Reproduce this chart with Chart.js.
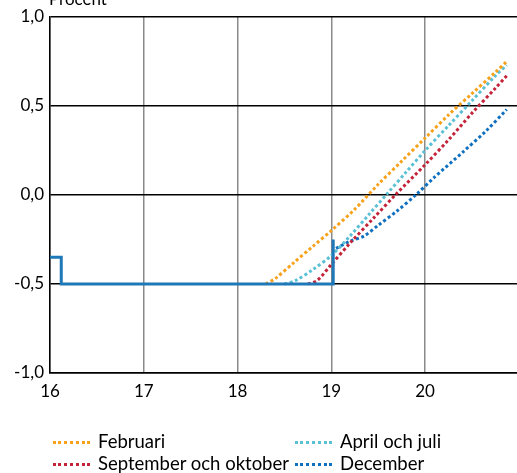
<!DOCTYPE html>
<html>
<head>
<meta charset="utf-8">
<script src="https://cdn.jsdelivr.net/npm/chart.js@4"></script>
<style>
  html, body { margin: 0; padding: 0; background: #fff; }
  #wrap { position: relative; width: 517px; height: 473px; overflow: hidden; font-family: Lato, "Open Sans", sans-serif; }
  #unit { position: absolute; left: 49px; top: -10px; font-size: 17px; line-height: 17px; color: #000; }
  .leg { position: absolute; font-size: 18.5px; line-height: 20px; color: #000; white-space: nowrap; }
  .leg span { display: inline-block; width: 37px; height: 0; border-top: 3px dotted; vertical-align: middle; margin-right: 8px; position: relative; top: -1px; }
</style>
</head>
<body>
<div id="wrap">
  <canvas id="chart" width="517" height="473"></canvas>
  <div id="unit">Procent</div>
  <div id="legend"></div>
</div>
<script>
// policy rate outcome (solid)
const outcomeX = [16, 16.12, 16.12, 19.02, 19.02];
const outcomeY = [-0.35, -0.35, -0.5, -0.5, -0.25];

// forecasts (dotted)
const febX = [18.3, 18.4, 18.6, 18.8, 19.0, 19.25, 19.5, 19.75, 20.0, 20.25, 20.5, 20.75, 20.87];
const febY = [-0.5, -0.47, -0.38, -0.29, -0.2, -0.08, 0.06, 0.19, 0.32, 0.45, 0.57, 0.69, 0.75];

const aprX = [18.5, 18.62, 18.8, 19.0, 19.2, 19.4, 19.6, 19.8, 20.0, 20.25, 20.5, 20.75, 20.87];
const aprY = [-0.5, -0.48, -0.42, -0.34, -0.23, -0.11, 0.01, 0.13, 0.25, 0.39, 0.53, 0.67, 0.73];

const sepX = [18.75, 18.85, 19.0, 19.2, 19.45, 19.7, 20.0, 20.25, 20.5, 20.75, 20.87];
const sepY = [-0.5, -0.48, -0.39, -0.27, -0.13, 0.01, 0.17, 0.31, 0.46, 0.6, 0.67];

const decX = [19.05, 19.2, 19.35, 19.5, 19.7, 19.9, 20.1, 20.4, 20.65, 20.87];
const decY = [-0.3, -0.26, -0.23, -0.17, -0.09, 0.0, 0.1, 0.24, 0.36, 0.48];

const seriesNames = ["Februari", "April och juli", "September och oktober", "December"];
const seriesColors = ["#F7A21B", "#5CC0D5", "#C3243A", "#1070C0"];
const yTicks = [-1, -0.5, 0, 0.5, 1];
const xTicks = [16, 17, 18, 19, 20];

const pts = (xs, ys) => xs.map((x, i) => ({ x: x, y: ys[i] }));

const forecastSets = [[febX, febY], [aprX, aprY], [sepX, sepY], [decX, decY]].map((s, i) => ({
    label: seriesNames[i],
    data: pts(s[0], s[1]),
    borderColor: seriesColors[i],
    borderWidth: 3,
    borderDash: [3, 2.5],
    pointRadius: 0,
    tension: 0.3,
    fill: false
}));

new Chart(document.getElementById("chart").getContext("2d"), {
    type: "line",
    data: {
        datasets: [
            {
                label: "Utfall",
                data: pts(outcomeX, outcomeY),
                borderColor: "#1F78B8",
                borderWidth: 3,
                pointRadius: 0,
                tension: 0,
                fill: false
            },
            ...forecastSets
        ]
    },
    options: {
        responsive: false,
        animation: false,
        layout: { padding: { top: 17, right: 0, left: 0, bottom: 0 } },
        plugins: { legend: { display: false }, tooltip: { enabled: false } },
        scales: {
            x: {
                type: "linear",
                min: 16,
                max: 20.98,
                afterBuildTicks: axis => { axis.ticks = xTicks.map(v => ({ value: v })); },
                afterFit: axis => { axis.height = 100; },
                ticks: { color: "#000", font: { family: "Lato", size: 17 }, padding: 8, maxRotation: 0 },
                grid: {
                    color: ctx => (ctx.tick && xTicks.includes(ctx.tick.value)) ? "#8a8a8a" : "rgba(0,0,0,0)",
                    lineWidth: 1.5,
                    drawTicks: false
                },
                border: { color: "#000", width: 1.5 }
            },
            y: {
                min: -1,
                max: 1,
                afterBuildTicks: axis => { axis.ticks = yTicks.map(v => ({ value: v })); },
                afterFit: axis => { axis.width = 50; },
                ticks: {
                    color: "#000",
                    font: { family: "Lato", size: 17 },
                    padding: 6,
                    callback: v => v.toFixed(1).replace(".", ",")
                },
                grid: { color: "#000", lineWidth: 1.5, drawTicks: false },
                border: { color: "#000", width: 1.5 }
            }
        }
    }
});

// two-column legend
const legPos = [[53, 431], [295, 431], [53, 453], [295, 453]];
const legend = document.getElementById("legend");
seriesNames.forEach((name, i) => {
    const d = document.createElement("div");
    d.className = "leg";
    d.style.left = legPos[i][0] + "px";
    d.style.top = legPos[i][1] + "px";
    d.innerHTML = '<span style="color:' + seriesColors[i] + '"></span>' + name;
    legend.appendChild(d);
});
</script>
</body>
</html>
